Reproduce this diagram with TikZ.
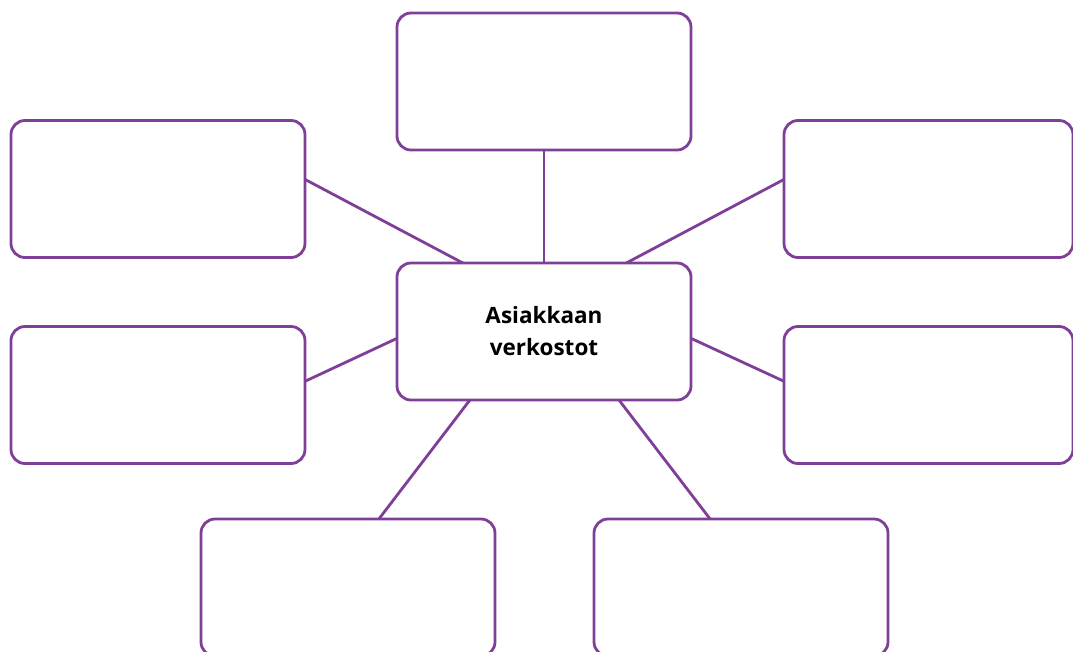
\documentclass[tikz,border=0pt]{standalone}
\usepackage{fontspec}
\setmainfont{Open Sans}
\usetikzlibrary{calc}
\definecolor{boxpurple}{HTML}{7F3F98}
\tikzset{
  box/.style={draw=boxpurple, line width=2.8pt, rounded corners=14pt, fill=white,
    minimum width=294pt, minimum height=137pt, inner sep=0pt, outer sep=0pt},
  conn/.style={draw=boxpurple, line width=2.8pt}
}
\begin{document}
\begin{tikzpicture}[x=1pt,y=-1pt]
\useasboundingbox (0,0) rectangle (1073,651);
\clip (0,0) rectangle (1073,651);
\node[box] (top) at (544,81.5) {};
\node[box] (lu) at (158,189) {};
\node[box, minimum width=289pt] (ru) at (928.5,189) {};
\node[box, align=center, font=\bfseries\fontsize{22.5}{32}\selectfont] (c) at (544,331.5) {Asiakkaan\\verkostot};
\node[box] (ll) at (158,395) {};
\node[box, minimum width=289pt] (rl) at (928.5,395) {};
\node[box] (bl) at (348,587.5) {};
\node[box] (br) at (741,587.5) {};
\draw[conn] (top.south) -- (c.north);
\draw[conn] ($(lu.north east)!0.43!(lu.south east)$) -- ($(c.north west)!0.224!(c.north east)$);
\draw[conn] ($(ru.north west)!0.43!(ru.south west)$) -- ($(c.north west)!0.78!(c.north east)$);
\draw[conn] ($(ll.north east)!0.40!(ll.south east)$) -- ($(c.north west)!0.55!(c.south west)$);
\draw[conn] ($(rl.north west)!0.40!(rl.south west)$) -- ($(c.north east)!0.55!(c.south east)$);
\draw[conn] ($(bl.north west)!0.605!(bl.north east)$) -- ($(c.south west)!0.248!(c.south east)$);
\draw[conn] ($(br.north west)!0.395!(br.north east)$) -- ($(c.south west)!0.755!(c.south east)$);
\end{tikzpicture}
\end{document}
